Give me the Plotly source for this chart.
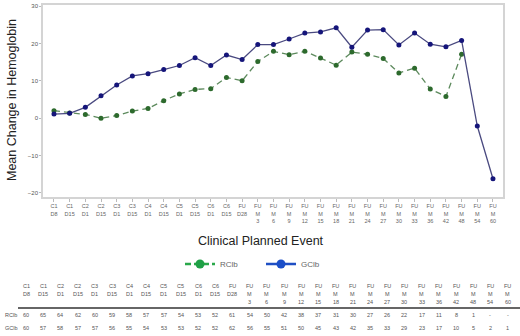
import plotly.graph_objects as go

# ---- data ----
cycles = ["C1", "C1", "C2", "C2", "C3", "C3", "C4", "C4", "C5", "C5", "C6", "C6", "FU"] + ["FU"] * 16
days = ["D8", "D15", "D1", "D15", "D1", "D15", "D1", "D15", "D1", "D15", "D1", "D15", "D28"] + ["M"] * 16
months = [""] * 13 + ["3", "6", "9", "12", "15", "18", "21", "24", "27", "30", "33", "36", "42", "48", "54", "60"]

rclb_mean = [2.0, 1.4, 1.0, 0.0, 0.7, 1.9, 2.6, 4.7, 6.5, 7.7, 7.9, 10.9, 10.0, 15.2,
             17.9, 17.0, 17.9, 16.1, 14.2, 17.7, 17.1, 16.0, 12.1, 13.4, 7.8, 5.8, 17.1, None, None]
gclb_mean = [1.1, 1.3, 2.9, 6.0, 8.9, 11.3, 11.9, 13.0, 14.1, 16.2, 14.1, 16.9, 15.7, 19.7,
             19.7, 21.2, 22.8, 23.1, 24.2, 19.0, 23.6, 23.7, 19.6, 22.8, 19.8, 19.1, 20.8, -2.1, -16.2]

rclb_n = ["60", "65", "64", "62", "60", "59", "58", "57", "57", "54", "53", "52", "61", "54",
          "50", "42", "38", "37", "31", "30", "27", "26", "22", "17", "11", "8", "1", "-", "-"]
gclb_n = ["60", "57", "58", "57", "57", "56", "55", "54", "53", "53", "52", "52", "62", "56",
          "55", "51", "50", "45", "43", "42", "35", "33", "29", "23", "17", "10", "5", "2", "1"]

y_ticks = [-20, -10, 0, 10, 20, 30]

events = ["<br>".join([p for p in (c, d, m) if p]) for c, d, m in zip(cycles, days, months)]

# ---- layout helpers (pixel geometry) ----
W, H = 520, 336
L, R, T, B = 43, 17, 5, 139
PW = W - L - R
PH = H - T - B


def px_x(px):
    return (px - L) / PW


def px_y(py):
    return (H - B - py) / PH


fig = go.Figure()

fig.add_trace(go.Scatter(
    x=events, y=rclb_mean, mode="lines+markers", name="RClb", showlegend=False,
    line=dict(color="#5d8a5d", width=1.3, dash="6px,4px"),
    marker=dict(color="#2d6a2d", size=5, symbol="circle"),
))
fig.add_trace(go.Scatter(
    x=events, y=gclb_mean, mode="lines+markers", name="GClb", showlegend=False,
    line=dict(color="#4a4a80", width=1.3),
    marker=dict(color="#15157a", size=5, symbol="circle"),
))
# legend entries
fig.add_trace(go.Scatter(
    x=[None], y=[None], mode="lines+markers", name="RClb",
    line=dict(color="#2aa84a", width=2.5, dash="6px,3px"),
    marker=dict(color="#1fa046", size=9),
))
fig.add_trace(go.Scatter(
    x=[None], y=[None], mode="lines+markers", name="GClb",
    line=dict(color="#1f4fc4", width=2.5),
    marker=dict(color="#1a4ec8", size=9),
))

annotations = []
# axis titles
annotations.append(dict(
    text="Mean Change in Hemoglobin", textangle=-90, showarrow=False,
    xref="paper", yref="paper", x=px_x(12), y=px_y(100), xanchor="center", yanchor="middle",
    font=dict(size=12.5, color="#222", family="Arial"),
))
annotations.append(dict(
    text="Clinical Planned Event", showarrow=False,
    xref="paper", yref="paper", x=px_x(261), y=px_y(241), xanchor="center", yanchor="middle",
    font=dict(size=12.5, color="#222", family="Arial"),
))

# table
col0, dcol = 26.0, 17.2
tfont = dict(size=5.5, color="#555", family="Arial")
for i in range(len(events)):
    xp = px_x(col0 + dcol * i)
    for txt, yy in ((cycles[i], 286), (days[i], 294), (months[i], 302), (rclb_n[i], 315), (gclb_n[i], 328)):
        if txt:
            annotations.append(dict(text=txt, showarrow=False, xref="paper", yref="paper",
                                    x=xp, y=px_y(yy), xanchor="center", yanchor="middle", font=tfont))
for name, yy in (("RClb", 315), ("GClb", 328)):
    annotations.append(dict(text=name, showarrow=False, xref="paper", yref="paper",
                            x=px_x(3), y=px_y(yy), xanchor="left", yanchor="middle", font=tfont))

shapes = [dict(type="line", xref="paper", yref="paper", x0=px_x(18), x1=px_x(520),
               y0=px_y(308), y1=px_y(308), line=dict(color="#333", width=1.3))]

fig.update_layout(
    width=W, height=H,
    margin=dict(l=L, r=R, t=T, b=B, autoexpand=False),
    paper_bgcolor="white", plot_bgcolor="white",
    font=dict(family="Arial", color="#555"),
    annotations=annotations, shapes=shapes,
    legend=dict(orientation="h", x=px_x(180), y=px_y(264), xanchor="left", yanchor="middle",
                font=dict(size=8, color="#666", family="Arial"),
                entrywidth=36, itemwidth=30, bgcolor="rgba(0,0,0,0)"),
    xaxis=dict(
        type="category", range=[-0.7, 28.64], showgrid=False, zeroline=False,
        showline=True, linecolor="#d4d4d4", linewidth=1.5, mirror=True,
        ticks="outside", ticklen=3, tickcolor="#bbb", automargin=False,
        tickfont=dict(size=5.5, color="#666", family="Arial"), tickangle=0,
    ),
    yaxis=dict(
        range=[-21.1, 30.3], tickvals=y_ticks, showgrid=False, zeroline=False,
        showline=True, linecolor="#d4d4d4", linewidth=1.5, mirror=True,
        ticks="outside", ticklen=2, tickcolor="#bbb", automargin=False,
        tickfont=dict(size=6, color="#555", family="Arial"),
    ),
)

fig.write_html("out.html", config={"displayModeBar": False},
               post_script="document.body.style.margin='0';document.body.style.overflow='hidden';")
